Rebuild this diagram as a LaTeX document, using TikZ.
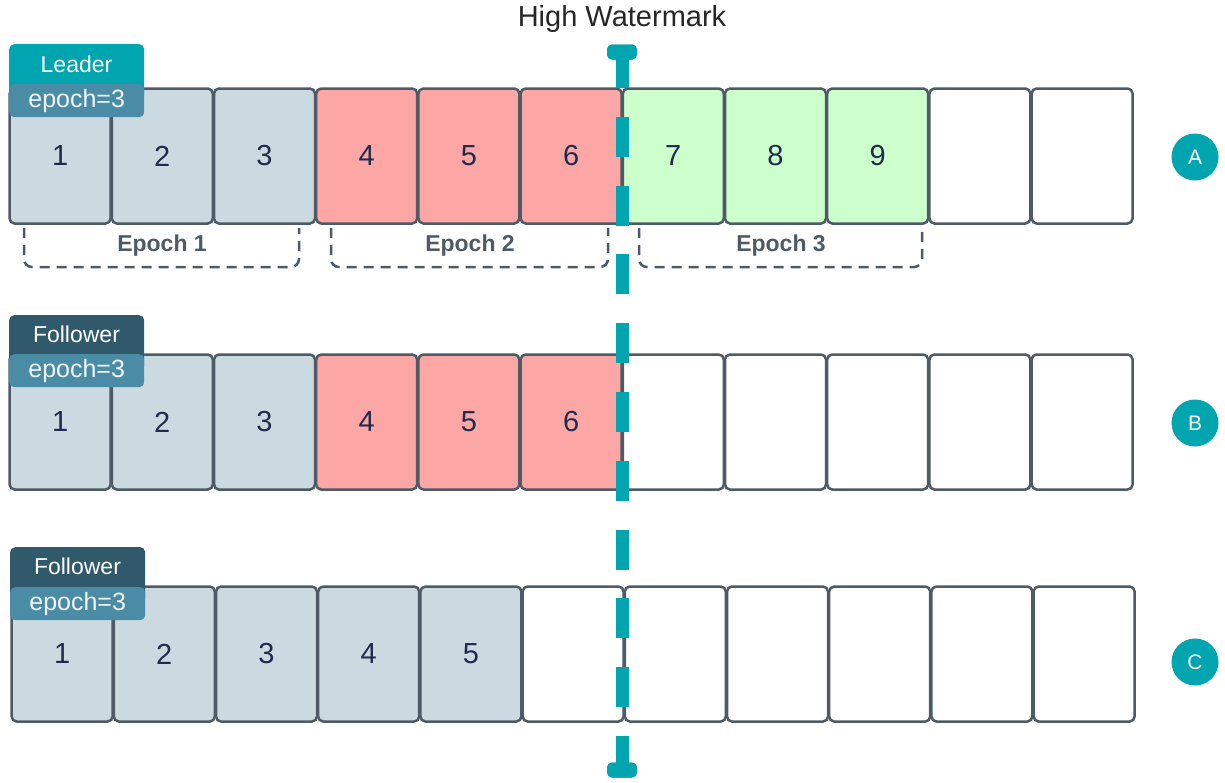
\documentclass[tikz,border=0pt]{standalone}
\usepackage{fontspec}
\setmainfont{Liberation Sans}
\usetikzlibrary{positioning}
\definecolor{wmteal}{HTML}{00A5B0}
\definecolor{epochtag}{HTML}{4A8BA5}
\definecolor{followtag}{HTML}{30596B}
\definecolor{cellgray}{HTML}{CBDAE0}
\definecolor{cellred}{HTML}{FCA7A5}
\definecolor{cellgreen}{HTML}{CCFFCC}
\definecolor{cellborder}{HTML}{4E5A65}
\definecolor{numtext}{HTML}{1E2B4D}
\tikzset{
    cell/.style={draw=cellborder, line width=2.5pt, rounded corners=5pt,
        minimum width=101pt, minimum height=135pt, inner sep=0pt,
        text=numtext, font=\fontsize{29}{32}\selectfont}, % one log entry
    roletag/.style={rounded corners=5pt, minimum width=135pt, minimum height=56pt,
        inner sep=0pt, text=white, font=\fontsize{23}{26}\selectfont},
    epochlabel/.style={fill=epochtag, rounded corners=5pt, minimum width=135pt,
        minimum height=33pt, inner sep=0pt, text=white!92!epochtag,
        font=\fontsize{25}{28}\selectfont},
    bracket/.style={draw=cellborder, line width=2.5pt, dash pattern=on 10pt off 7pt,
        rounded corners=8pt},
    bracketlabel/.style={text=cellborder, font=\bfseries\fontsize{23}{26}\selectfont},
    rowmark/.style={circle, fill=wmteal, minimum size=47pt, inner sep=0pt,
        text=white, font=\fontsize{21}{24}\selectfont},
    wmcap/.style={fill=wmteal, rounded corners=5pt, minimum width=30pt,
        minimum height=15pt, inner sep=0pt},
    wmline/.style={draw=wmteal, line width=13pt, dash pattern=on 40pt off 28.8pt,
        dash phase=4pt},
}

\begin{document}
\begin{tikzpicture}[x=1pt, y=-1pt]
    \useasboundingbox (0,0) rectangle (1225,782);

    % Titolo
    \node[font=\fontsize{29}{32}\selectfont, text=black!85] (title) at (622,19) {High Watermark};

    % Riga A (leader)
    \foreach \i/\col/\lab in {1/cellgray/1, 2/cellgray/2, 3/cellgray/3, 4/cellred/4,
        5/cellred/5, 6/cellred/6, 7/cellgreen/7, 8/cellgreen/8, 9/cellgreen/9,
        10/white/, 11/white/}
        \node[cell, fill=\col] (a\i) at ({9+102.2*(\i-0.5)},156) {\lab};
    \node[roletag, fill=wmteal, anchor=north west] (leader) at (9,44) {};
    \node at (76.5,64) (leadertxt) [text=white, font=\fontsize{23}{26}\selectfont] {Leader};
    \node[epochlabel, anchor=north west] (epA) at (9,84) {epoch=3};
    \node[rowmark] (markA) at (1195,157) {A};

    % Parentesi delle epoche
    \draw[bracket] (24,228) -- (24,267) -- (299,267) -- (299,228);
    \node[bracketlabel] (ep1) at (162,246) {Epoch 1};
    \draw[bracket] (331,228) -- (331,267) -- (608,267) -- (608,228);
    \node[bracketlabel] (ep2) at (470,246) {Epoch 2};
    \draw[bracket] (639,228) -- (639,267) -- (922,267) -- (922,228);
    \node[bracketlabel] (ep3) at (781,246) {Epoch 3};

    % Riga B (follower)
    \foreach \i/\col/\lab in {1/cellgray/1, 2/cellgray/2, 3/cellgray/3, 4/cellred/4,
        5/cellred/5, 6/cellred/6, 7/white/, 8/white/, 9/white/, 10/white/, 11/white/}
        \node[cell, fill=\col] (b\i) at ({9+102.2*(\i-0.5)},422) {\lab};
    \node[roletag, fill=followtag, anchor=north west] (followB) at (9,315) {};
    \node at (76.5,334) (followBtxt) [text=white, font=\fontsize{23}{26}\selectfont] {Follower};
    \node[epochlabel, anchor=north west] (epB) at (9,354) {epoch=3};
    \node[rowmark] (markB) at (1195,423) {B};

    % Riga C (follower)
    \foreach \i/\col/\lab in {1/cellgray/1, 2/cellgray/2, 3/cellgray/3, 4/cellgray/4,
        5/cellgray/5, 6/white/, 7/white/, 8/white/, 9/white/, 10/white/, 11/white/}
        \node[cell, fill=\col] (c\i) at ({11+102.2*(\i-0.5)},654) {\lab};
    \node[roletag, fill=followtag, anchor=north west] (followC) at (10,547) {};
    \node at (77.5,566) (followCtxt) [text=white, font=\fontsize{23}{26}\selectfont] {Follower};
    \node[epochlabel, anchor=north west] (epC) at (10,587) {epoch=3};
    \node[rowmark] (markC) at (1195,662) {C};

    % Linea del watermark
    \node[wmcap] (wmtop) at (622,52) {};
    \node[wmcap] (wmbot) at (622,770) {};
    \draw[wmline] (wmtop.center) -- (wmbot.center);
    \node[wmcap] at (wmtop) {};
    \node[wmcap] at (wmbot) {};
\end{tikzpicture}
\end{document}
